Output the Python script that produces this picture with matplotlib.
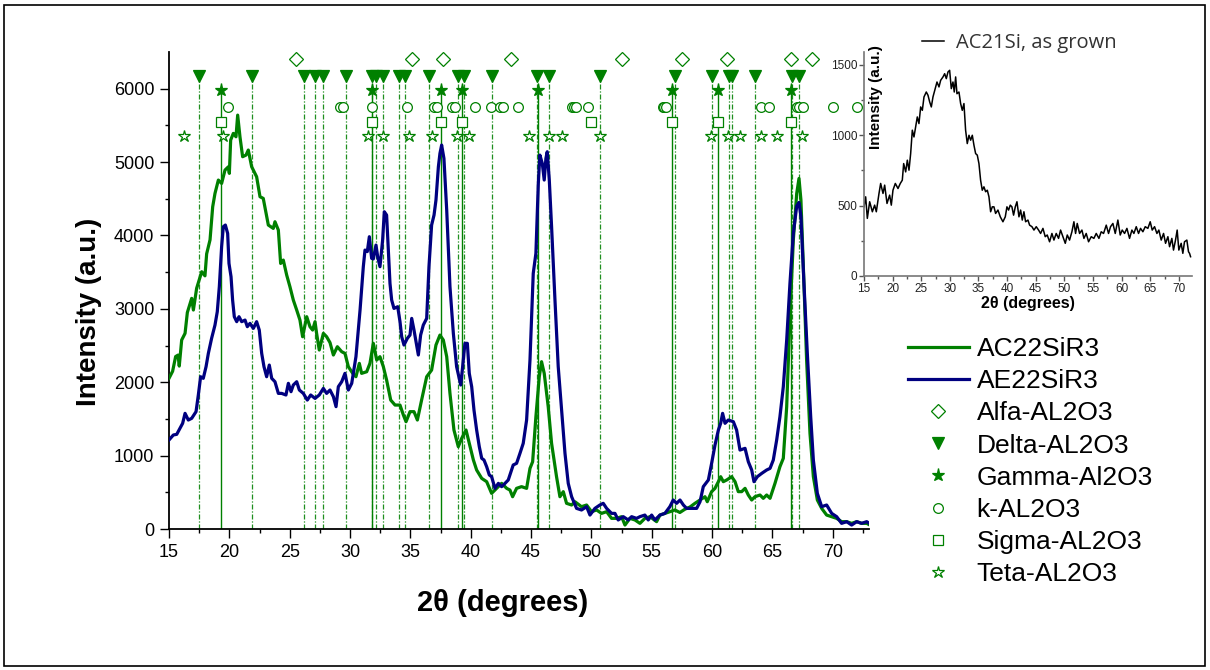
from __future__ import annotations

import matplotlib

matplotlib.use("Agg")
import matplotlib.pyplot as plt
import matplotlib.ticker as ticker
from matplotlib.lines import Line2D
from matplotlib.patches import Rectangle

plt.rcParams["font.family"] = ["Liberation Sans", "DejaVu Sans"]

GREEN = "#008000"
NAVY = "#000080"

# --- main pattern: AC22SiR3 -------------------------------------------------
ac22_x = [15.0, 15.3, 15.55, 15.75, 15.85, 16.05, 16.33, 16.52, 16.88, 17.02,
          17.29, 17.71, 17.98, 18.12, 18.40, 18.62, 18.81, 19.09, 19.36, 19.64,
          19.92, 20.0, 20.11, 20.33, 20.55, 20.69, 20.88, 21.10, 21.38, 21.57,
          21.85, 22.26, 22.54, 22.81, 23.23, 23.64, 23.78, 24.06, 24.25, 24.47,
          24.75, 25.02, 25.30, 25.58, 25.85, 26.07, 26.41, 26.68, 26.90, 27.10,
          27.23, 27.45, 27.79, 28.06, 28.34, 28.62, 28.95, 29.31, 29.58, 29.86,
          30.22, 30.49, 30.77, 30.96, 31.38, 31.65, 31.93, 32.21, 32.48, 32.76,
          33.03, 33.37, 33.73, 34.14, 34.42, 34.64, 34.97, 35.30, 35.58, 35.93,
          36.35, 36.76, 37.12, 37.45, 37.73, 38.01, 38.28, 38.61, 38.97, 39.25,
          39.61, 39.88, 40.22, 40.49, 40.91, 41.32, 41.73, 42.15, 42.56, 42.98,
          43.25, 43.47, 43.80, 44.21, 44.63, 44.91, 45.13, 45.40, 45.68, 45.87,
          46.09, 46.42, 46.70, 47.11, 47.39, 47.67, 47.94, 48.36, 48.63, 49.18,
          49.60, 50.01, 50.43, 50.84, 51.26, 51.67, 52.09, 52.50, 52.78, 53.19,
          53.61, 54.02, 54.43, 54.85, 55.40, 55.68, 56.09, 56.50, 56.92, 57.33,
          57.75, 58.17, 58.58, 59.00, 59.41, 59.60, 59.96, 60.24, 60.52, 60.71,
          60.93, 61.21, 61.62, 61.90, 62.17, 62.45, 62.73, 63.00, 63.28, 63.55,
          63.97, 64.24, 64.52, 64.80, 65.21, 65.62, 65.90, 66.18, 66.45, 66.73,
          67.01, 67.20, 67.36, 67.56, 67.83, 68.11, 68.39, 68.72, 69.08, 69.49,
          69.91, 70.32, 70.73, 71.15, 71.56, 71.98, 72.39, 72.81, 73.0]
ac22_y = [2053, 2150, 2350, 2370, 2220, 2575, 2666, 2950, 3143, 2984,
          3280, 3506, 3450, 3750, 3940, 4391, 4573, 4755, 4709, 4891,
          4936, 4846, 5300, 5391, 5345, 5640, 5345, 5073, 5095, 5164,
          4936, 4800, 4528, 4505, 4142, 4096, 4187, 4074, 3619, 3665,
          3461, 3302, 3120, 2984, 2847, 2620, 2893, 2757, 2711, 2825,
          2666, 2439, 2666, 2620, 2540, 2371, 2484, 2416, 2393, 2212,
          2121, 2075, 2257, 2121, 2143, 2257, 2530, 2302, 2348, 2212,
          2030, 1757, 1689, 1689, 1553, 1462, 1599, 1599, 1485, 1757,
          2075, 2166, 2507, 2643, 2575, 2348, 1848, 1349, 1122, 1235,
          1349, 1167, 940, 804, 690, 645, 486, 554, 622, 554,
          531, 440, 554, 577, 554, 826, 917, 1530, 2075, 2280,
          2121, 1667, 1167, 713, 440, 509, 350, 327, 372, 304,
          327, 236, 259, 213, 236, 145, 145, 168, 54, 145,
          123, 77, 145, 168, 100, 190, 213, 236, 259, 225,
          270, 300, 350, 395, 440, 372, 509, 554, 645, 713,
          645, 668, 713, 645, 509, 509, 554, 463, 395, 440,
          463, 418, 463, 418, 622, 849, 963, 1667, 2893, 3937,
          4573, 4777, 4482, 3574, 2302, 1303, 713, 395, 281, 190,
          168, 145, 100, 100, 77, 100, 77, 77, 60]

# --- main pattern: AE22SiR3 -------------------------------------------------
ae22_x = [15.0, 15.36, 15.64, 15.91, 16.13, 16.33, 16.60, 16.88, 17.24, 17.43,
          17.62, 17.84, 18.07, 18.26, 18.53, 18.81, 19.00, 19.17, 19.36, 19.50,
          19.67, 19.86, 19.97, 20.14, 20.27, 20.41, 20.61, 20.80, 21.02, 21.30,
          21.49, 21.71, 21.99, 22.26, 22.48, 22.68, 22.87, 23.09, 23.31, 23.51,
          23.78, 24.06, 24.33, 24.69, 24.89, 25.11, 25.30, 25.58, 25.80, 26.13,
          26.46, 26.74, 27.10, 27.45, 27.79, 28.06, 28.34, 28.62, 28.84, 29.03,
          29.31, 29.58, 29.86, 30.14, 30.49, 30.83, 31.10, 31.24, 31.43, 31.60,
          31.79, 31.93, 32.15, 32.29, 32.48, 32.70, 32.84, 33.03, 33.17, 33.31,
          33.45, 33.64, 33.95, 34.14, 34.28, 34.47, 34.75, 34.97, 35.11, 35.30,
          35.52, 35.66, 35.85, 36.07, 36.35, 36.54, 36.76, 36.96, 37.12, 37.32,
          37.45, 37.59, 37.78, 38.01, 38.28, 38.56, 38.83, 39.17, 39.33, 39.52,
          39.72, 39.88, 40.08, 40.27, 40.49, 40.71, 40.91, 41.10, 41.32, 41.54,
          41.73, 42.01, 42.29, 42.56, 42.84, 43.11, 43.52, 43.80, 44.08, 44.35,
          44.63, 44.91, 45.18, 45.40, 45.60, 45.73, 45.93, 46.09, 46.23, 46.34,
          46.51, 46.70, 46.98, 47.25, 47.53, 47.81, 48.08, 48.36, 48.77, 49.18,
          49.60, 49.88, 50.29, 50.70, 50.98, 51.26, 51.67, 51.95, 52.22, 52.64,
          53.05, 53.33, 53.74, 54.02, 54.43, 54.71, 54.99, 55.26, 55.68, 56.09,
          56.50, 56.78, 57.06, 57.34, 57.62, 57.89, 58.31, 58.72, 59.00, 59.27,
          59.69, 59.96, 60.24, 60.52, 60.71, 60.87, 61.07, 61.34, 61.76, 62.03,
          62.31, 62.73, 63.00, 63.28, 63.47, 63.75, 64.11, 64.52, 64.80, 65.07,
          65.35, 65.62, 65.90, 66.18, 66.45, 66.73, 67.01, 67.20, 67.36, 67.61,
          67.89, 68.17, 68.39, 68.72, 69.08, 69.49, 69.91, 70.32, 70.73, 71.15,
          71.56, 71.98, 72.39, 72.81, 73.0]
ae22_y = [1213, 1281, 1290, 1371, 1440, 1576, 1485, 1508, 1599, 1826,
          2075, 2053, 2212, 2393, 2598, 2779, 2961, 3302, 3846, 4119,
          4142, 4028, 3619, 3438, 3120, 2893, 2825, 2893, 2825, 2847,
          2757, 2802, 2734, 2825, 2711, 2393, 2212, 2075, 2234, 2053,
          2007, 1848, 1848, 1826, 1985, 1871, 1962, 2007, 1894, 1848,
          1757, 1826, 1780, 1826, 1916, 1848, 1894, 1803, 1667, 1939,
          2007, 2121, 1894, 1985, 2348, 2984, 3574, 3801, 3780, 3983,
          3688, 3680, 3869, 3710, 3574, 3937, 4323, 4278, 3801, 3347,
          3120, 3006, 3029, 2825, 2620, 2507, 2598, 2643, 2870, 2711,
          2507, 2371, 2643, 2779, 2870, 3574, 4142, 4278, 4482, 4936,
          5118, 5232, 5050, 4346, 3302, 2666, 2212, 1962, 2212, 2530,
          2530, 2121, 1939, 1621, 1349, 1122, 963, 940, 849, 736,
          713, 554, 622, 577, 622, 668, 872, 895, 1031, 1167,
          1485, 2302, 3483, 3756, 4709, 5095, 4982, 4755, 5050, 5141,
          4755, 4119, 3120, 2212, 1621, 1031, 622, 440, 281, 259,
          304, 190, 281, 327, 350, 281, 213, 213, 123, 168,
          123, 168, 145, 168, 190, 123, 190, 123, 190, 213,
          304, 395, 350, 395, 327, 281, 281, 281, 372, 577,
          668, 895, 1144, 1349, 1440, 1576, 1440, 1485, 1462, 1349,
          1076, 1099, 917, 804, 645, 713, 758, 804, 826, 940,
          1213, 1530, 1939, 2575, 3347, 4028, 4400, 4450, 4255, 3347,
          2393, 1530, 940, 486, 304, 327, 213, 168, 77, 100,
          54, 100, 77, 100, 80]

# --- reference peak positions (2theta) --------------------------------------
alfa_pos = [25.52, 35.11, 37.73, 43.31, 52.56, 57.48, 61.26, 66.51, 68.25]
delta_pos = [17.51, 21.90, 26.21, 27.12, 27.78, 29.66, 31.84, 32.15, 32.75,
             34.08, 34.55, 36.57, 38.97, 39.44, 41.74, 45.50, 46.51, 50.71,
             56.92, 59.96, 61.42, 61.67, 63.57, 66.59, 67.22]
gamma_pos = [19.31, 31.84, 37.51, 39.25, 45.60, 56.70, 60.51, 66.55]
kappa_pos = [19.86, 29.17, 29.39, 31.84, 34.74, 36.95, 37.17, 38.41, 38.69,
             40.35, 41.68, 42.42, 42.70, 43.89, 48.36, 48.55, 48.72, 49.74,
             55.90, 56.01, 56.15, 64.02, 64.74, 67.00, 67.22, 67.50, 69.99,
             72.03]
sigma_pos = [19.31, 31.84, 37.51, 39.25, 49.94, 56.70, 60.51, 66.51]
teta_pos = [16.24, 19.50, 31.51, 32.75, 34.91, 36.76, 38.84, 39.88, 44.85,
            46.51, 47.53, 50.71, 59.91, 61.29, 62.31, 64.02, 65.40, 67.42]

# --- inset: AC21Si, as grown ------------------------------------------------
ac21_x = [15.0, 15.29, 15.58, 15.99, 16.46, 16.86, 17.15, 17.62, 17.91, 18.32,
          18.61, 19.02, 19.48, 19.77, 20.06, 20.47, 20.94, 21.34, 21.69, 21.93,
          22.28, 22.57, 22.86, 23.15, 23.44, 23.73, 24.02, 24.31, 24.60, 24.90,
          25.19, 25.48, 25.88, 26.18, 26.47, 26.76, 27.05, 27.51, 27.75, 28.10,
          28.39, 28.80, 29.09, 29.38, 29.67, 29.96, 30.25, 30.54, 30.77, 31.01,
          31.24, 31.59, 31.88, 32.17, 32.46, 32.75, 33.04, 33.34, 33.63, 33.92,
          34.21, 34.50, 34.79, 35.08, 35.37, 35.66, 35.95, 36.25, 36.54, 36.83,
          37.12, 37.41, 37.70, 37.99, 38.40, 38.81, 39.27, 39.68, 39.97, 40.26,
          40.55, 40.84, 41.13, 41.43, 41.72, 42.07, 42.36, 42.65, 42.94, 43.23,
          43.64, 43.93, 44.34, 44.69, 45.09, 45.50, 45.85, 46.26, 46.66, 47.01,
          47.42, 47.83, 48.18, 48.58, 48.99, 49.34, 49.75, 50.16, 50.51, 50.91,
          51.32, 51.67, 51.96, 52.25, 52.66, 53.07, 53.42, 53.82, 54.23, 54.70,
          55.16, 55.57, 56.04, 56.44, 56.85, 57.32, 57.72, 58.07, 58.48, 58.89,
          59.35, 59.76, 60.11, 60.52, 60.93, 61.39, 61.80, 62.15, 62.56, 62.96,
          63.31, 63.72, 64.13, 64.59, 65.00, 65.35, 65.76, 66.17, 66.51, 66.92,
          67.33, 67.68, 68.09, 68.38, 68.78, 69.07, 69.42, 69.71, 70.00, 70.41,
          70.70, 70.99, 71.40, 71.69, 71.87, 72.05]
ac21_y = [491, 562, 409, 527, 456, 503, 456, 586, 657, 586,
          645, 515, 574, 503, 609, 657, 621, 657, 680, 798,
          739, 822, 751, 869, 1035, 987, 1058, 1129, 1082, 1200,
          1176, 1271, 1306, 1283, 1236, 1200, 1271, 1342, 1377, 1342,
          1389, 1413, 1436, 1401, 1448, 1460, 1330, 1377, 1306, 1413,
          1294, 1306, 1224, 1176, 1224, 1035, 940, 999, 964, 999,
          928, 869, 858, 798, 680, 609, 633, 598, 609, 562,
          456, 491, 491, 444, 468, 420, 385, 420, 491, 468,
          503, 491, 432, 491, 527, 420, 468, 397, 456, 385,
          397, 361, 350, 326, 350, 326, 302, 338, 279, 291,
          243, 302, 255, 302, 267, 326, 279, 232, 291, 255,
          314, 385, 302, 373, 302, 326, 267, 302, 243, 279,
          267, 302, 267, 314, 302, 361, 302, 350, 373, 302,
          397, 291, 326, 302, 338, 267, 326, 302, 350, 302,
          338, 314, 350, 338, 385, 326, 350, 302, 326, 255,
          302, 232, 279, 208, 267, 184, 255, 326, 184, 232,
          161, 243, 255, 172, 161, 137]

# row heights of the phase markers and their looks
PHASES = [
    ("Alfa-AL2O3", alfa_pos, 6400, dict(marker="D", ms=7.2, mfc="white")),
    ("Delta-AL2O3", delta_pos, 6170, dict(marker="v", ms=8.5, mfc=GREEN)),
    ("Gamma-Al2O3", gamma_pos, 5980, dict(marker="*", ms=9.5, mfc=GREEN)),
    ("k-AL2O3", kappa_pos, 5750, dict(marker="o", ms=7, mfc="white")),
    ("Sigma-AL2O3", sigma_pos, 5540, dict(marker="s", ms=6.5, mfc="white")),
    ("Teta-AL2O3", teta_pos, 5350, dict(marker="*", ms=9, mfc="white")),
]


def style_ticks(ax, size: float, major: float, minor: float) -> None:
    ax.tick_params(which="major", direction="out", length=major, width=1.0,
                   labelsize=size, pad=4)
    ax.tick_params(which="minor", direction="out", length=minor, width=1.0)
    ax.spines["top"].set_visible(False)
    ax.spines["right"].set_visible(False)


def draw_main(fig) -> None:
    ax = fig.add_axes([169 / 1210, 141 / 670, 700 / 1210, 477 / 670])

    delta_row = PHASES[1][2]
    gamma_row = PHASES[2][2]
    ax.vlines(delta_pos, 0, delta_row, colors="#1f8f1f", linewidth=0.9,
              linestyles=(0, (4, 1.5, 1, 1.5)), zorder=1)
    ax.vlines(gamma_pos, 0, gamma_row, colors=GREEN, linewidth=1.0, zorder=1)

    l1, = ax.plot(ac22_x, ac22_y, color=GREEN, linewidth=2.3, zorder=3,
                  label="AC22SiR3")
    l2, = ax.plot(ae22_x, ae22_y, color=NAVY, linewidth=2.3, zorder=3,
                  label="AE22SiR3")

    handles = [l1, l2]
    for name, pos, row, st in PHASES:
        h, = ax.plot(pos, [row] * len(pos), linestyle="none", color=GREEN,
                     mec=GREEN, mew=0.9, label=name, zorder=4, clip_on=False,
                     **st)
        handles.append(h)

    ax.set_xlim(15, 73)
    ax.set_ylim(0, 6500)
    ax.xaxis.set_major_locator(ticker.MultipleLocator(5))
    ax.xaxis.set_minor_locator(ticker.MultipleLocator(2.5))
    ax.yaxis.set_major_locator(ticker.FixedLocator([0, 1000, 2000, 3000, 4000, 5000, 6000]))
    ax.yaxis.set_minor_locator(ticker.FixedLocator([500, 1500, 2500, 3500, 4500, 5500]))
    style_ticks(ax, 13, 6.5, 3)
    for sp in ("left", "bottom"):
        ax.spines[sp].set_linewidth(1.3)

    ax.set_xlabel("2\u03b8 (degrees)", fontsize=21, fontweight="bold")
    ax.set_ylabel("Intensity (a.u.)", fontsize=20, fontweight="bold")
    ax.xaxis.set_label_coords((503 - 169) / 700, -0.125)
    ax.yaxis.set_label_coords(-0.096, 0.455)

    ax.legend(handles=handles, loc="upper left",
              bbox_to_anchor=(908 / 1210, 1 - 337 / 670),
              bbox_transform=fig.transFigure, frameon=False, fontsize=19,
              handlelength=2.3, handletextpad=0.3, labelspacing=0.31,
              borderpad=0, borderaxespad=0)


def draw_inset(fig) -> None:
    ax = fig.add_axes([864 / 1210, 394 / 670, 328 / 1210, 224 / 670])
    line, = ax.plot(ac21_x, ac21_y, color="black", linewidth=1.1)
    ax.set_xlim(15, 72.3)
    ax.set_ylim(0, 1590)
    ax.xaxis.set_major_locator(ticker.MultipleLocator(5))
    ax.xaxis.set_minor_locator(ticker.MultipleLocator(2.5))
    ax.yaxis.set_major_locator(ticker.MultipleLocator(500))
    ax.yaxis.set_minor_locator(ticker.MultipleLocator(250))
    style_ticks(ax, 8.5, 3.5, 2)
    ax.tick_params(which="both", pad=1.5, colors="#555555", labelcolor="#222222")
    for sp in ("left", "bottom"):
        ax.spines[sp].set_color("#777777")
        ax.spines[sp].set_linewidth(1.2)

    ax.set_xlabel("2\u03b8 (degrees)", fontsize=11.5, fontweight="bold",
                  labelpad=1)
    ax.text(0.036, 0.80, "Intensity (a.u.)", transform=ax.transAxes,
            rotation=90, ha="center", va="center", fontsize=11,
            fontweight="bold")

    ax.legend([line], ["AC21Si, as grown"], loc="center left",
              bbox_to_anchor=(922 / 1210, 1 - 43 / 670),
              bbox_transform=fig.transFigure, frameon=False,
              prop={"family": "Open Sans", "size": 14.5}, labelcolor="#333333",
              handlelength=1.1, handletextpad=0.6, borderpad=0,
              borderaxespad=0)


def main() -> None:
    fig = plt.figure(figsize=(12.1, 6.7), dpi=100)
    fig.patches.append(Rectangle((4 / 1210, 4 / 670), 1 - 9 / 1210,
                                 1 - 9 / 670, transform=fig.transFigure,
                                 fill=False, edgecolor="black", linewidth=1.2))
    draw_main(fig)
    draw_inset(fig)
    fig.savefig("out.png", dpi=100)
    plt.close(fig)


if __name__ == "__main__":
    main()
